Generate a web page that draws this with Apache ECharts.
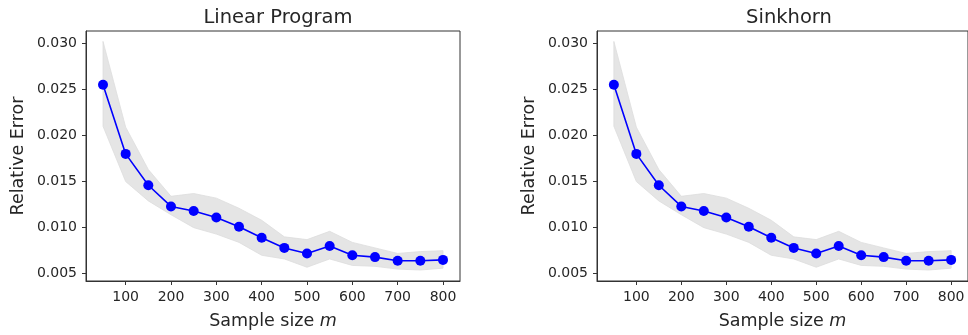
<!DOCTYPE html>
<html>
<head>
<meta charset="utf-8">
<script src="https://cdn.jsdelivr.net/npm/echarts@6/dist/echarts.min.js"></script>
<style>html,body{margin:0;padding:0;background:#fff;}#c{width:968px;height:335px;}</style>
</head>
<body>
<div id="c"></div>
<script>
const sampleSizes = [50, 100, 150, 200, 250, 300, 350, 400, 450, 500, 550, 600, 650, 700, 750, 800];
const meanError = [0.0255, 0.0180, 0.0146, 0.0123, 0.0118, 0.0111, 0.0101, 0.0089, 0.0078, 0.0072, 0.0080, 0.0070, 0.0068, 0.0064, 0.0064, 0.0065];
const upperError = [0.0302, 0.0209, 0.0163, 0.0134, 0.0137, 0.0132, 0.0121, 0.0108, 0.0090, 0.0087, 0.0096, 0.0084, 0.0078, 0.0072, 0.0074, 0.0075];
const lowerError = [0.0210, 0.0150, 0.0129, 0.0114, 0.0100, 0.0093, 0.0084, 0.0070, 0.0066, 0.0057, 0.0066, 0.0059, 0.0058, 0.0055, 0.0054, 0.0056];
const xTicks = [100, 200, 300, 400, 500, 600, 700, 800];
const yTicks = [0.005, 0.010, 0.015, 0.020, 0.025, 0.030];
const titles = ["Linear Program", "Sinkhorn"];

const FONT = "DejaVu Sans";
const AX = '#333';
const TXT = '#262626';
const grids = [
  {left: 86, top: 31, width: 374, height: 251},
  {left: 597, top: 31, width: 374, height: 251}
];

const option = {
  animation: false,
  backgroundColor: '#fff',
  title: titles.map((t, i) => ({
    text: t,
    left: grids[i].left + grids[i].width / 2,
    textAlign: 'center',
    top: 3,
    textStyle: {fontFamily: FONT, fontSize: 19.5, fontWeight: 'normal', color: TXT}
  })),
  grid: grids.map(g => Object.assign({show: true, borderColor: AX, borderWidth: 1, backgroundColor: 'transparent'}, g)),
  xAxis: grids.map((g, i) => ({
    type: 'value', gridIndex: i, min: 12.5, max: 837.5,
    name: 'Sample size {i|m}', nameLocation: 'middle', nameGap: 31,
    nameTextStyle: {fontFamily: FONT, fontSize: 17.5, color: TXT, rich: {i: {fontFamily: FONT, fontSize: 17.5, fontStyle: 'italic', color: TXT}}},
    splitLine: {show: false},
    axisLine: {show: true, onZero: false, lineStyle: {color: AX, width: 1}},
    axisTick: {show: true, length: 4, lineStyle: {color: AX}, customValues: xTicks},
    axisLabel: {fontFamily: FONT, fontSize: 14, color: TXT, margin: 9, customValues: xTicks, formatter: v => String(v)}
  })),
  yAxis: grids.map((g, i) => ({
    type: 'value', gridIndex: i, min: 0.00421, max: 0.03133,
    name: 'Relative Error', nameLocation: 'middle', nameGap: 59,
    nameTextStyle: {fontFamily: FONT, fontSize: 17.5, color: TXT},
    splitLine: {show: false},
    axisLine: {show: true, lineStyle: {color: AX, width: 1}},
    axisTick: {show: true, length: 4, lineStyle: {color: AX}, customValues: yTicks},
    axisLabel: {fontFamily: FONT, fontSize: 14, color: TXT, margin: 9, customValues: yTicks, formatter: v => v.toFixed(3)}
  })),
  series: []
};

function bandRender(params, api) {
  const pts = [];
  for (let k = 0; k < sampleSizes.length; k++) pts.push(api.coord([sampleSizes[k], upperError[k]]));
  for (let k = sampleSizes.length - 1; k >= 0; k--) pts.push(api.coord([sampleSizes[k], lowerError[k]]));
  return {
    type: 'polygon',
    shape: {points: pts},
    style: {fill: '#e5e5e5', stroke: '#dddddd', lineWidth: 0.8}
  };
}

grids.forEach((g, i) => {
  option.series.push({
    type: 'custom', xAxisIndex: i, yAxisIndex: i,
    data: [[sampleSizes[0], upperError[0]]],
    renderItem: bandRender, silent: true, z: 1
  });
  option.series.push({
    type: 'line', xAxisIndex: i, yAxisIndex: i,
    data: sampleSizes.map((x, k) => [x, meanError[k]]),
    symbol: 'circle', symbolSize: 10,
    lineStyle: {color: '#0000ff', width: 1.6},
    itemStyle: {color: '#0000ff'}, z: 5
  });
});

const chart = echarts.init(document.getElementById('c'), null, {renderer: 'canvas'});
chart.setOption(option);
</script>
</body>
</html>
